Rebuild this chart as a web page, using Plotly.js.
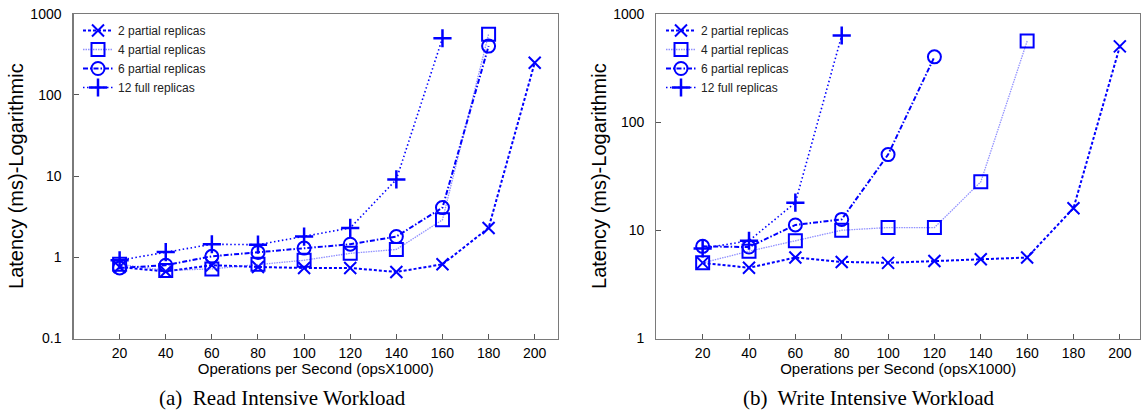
<!DOCTYPE html>
<html>
<head>
<meta charset="utf-8">
<script src="https://cdn.plot.ly/plotly-3.0.1.min.js"></script>
<style>html,body{margin:0;padding:0;background:#fff;}#chart{width:1141px;height:410px;}</style>
</head>
<body>
<div id="chart"></div>
<script>
// ---- data ----
const seriesNames = ["2 partial replicas", "4 partial replicas", "6 partial replicas", "12 full replicas"];
const opsRead2 = [20, 40, 60, 80, 100, 120, 140, 160, 180, 200];
const opsRead4 = [20, 40, 60, 80, 100, 120, 140, 160, 180];
const opsRead6 = [20, 40, 60, 80, 100, 120, 140, 160, 180];
const opsRead12 = [20, 40, 60, 80, 100, 120, 140, 160];
const read2 = [0.76, 0.67, 0.80, 0.76, 0.74, 0.74, 0.66, 0.82, 2.3, 250];
const read4 = [0.82, 0.69, 0.72, 0.82, 0.92, 1.12, 1.25, 2.9, 560];
const read6 = [0.74, 0.80, 1.03, 1.15, 1.30, 1.45, 1.80, 4.1, 400];
const read12 = [0.92, 1.16, 1.45, 1.43, 1.80, 2.30, 9.1, 500];

const opsWrite2 = [20, 40, 60, 80, 100, 120, 140, 160, 180, 200];
const opsWrite4 = [20, 40, 60, 80, 100, 120, 140, 160];
const opsWrite6 = [20, 40, 60, 80, 100, 120];
const opsWrite12 = [20, 40, 60, 80];
const write2 = [5.0, 4.5, 5.6, 5.1, 5.0, 5.2, 5.4, 5.6, 16, 500];
const write4 = [5.0, 6.4, 8.0, 10.0, 10.6, 10.6, 28, 560];
const write6 = [7.1, 7.0, 11.2, 12.6, 50, 400];
const write12 = [6.8, 8.0, 18, 630];

const xTicks = [20, 40, 60, 80, 100, 120, 140, 160, 180, 200];
const yTicksRead = [0.1, 1, 10, 100, 1000];
const yTickTextRead = ["0.1", "1", "10", "100", "1000"];
const yTicksWrite = [1, 10, 100, 1000];
const yTickTextWrite = ["1", "10", "100", "1000"];
const xTitle = "Operations per Second (opsX1000)";
const yTitle = "Latency (ms)-Logarithmic";
const captions = ["(a)\u00a0 Read Intensive Workload", "(b)\u00a0 Write Intensive Workload"];

// ---- styles ----
const BLUE = "#0000ff";
const styles = [
  {line: {color: BLUE, width: 2, dash: "3px,2px"}, marker: {symbol: "x-thin-open", size: 12, line: {color: BLUE, width: 2}}},
  {line: {color: "rgba(70,70,255,0.6)", width: 1.3, dash: "1.5px,1px"}, marker: {symbol: "square-open", size: 13, line: {color: BLUE, width: 2}}},
  {line: {color: BLUE, width: 2, dash: "5px,2px,1.5px,2px"}, marker: {symbol: "circle-open", size: 13, line: {color: BLUE, width: 2}}},
  {line: {color: BLUE, width: 1.6, dash: "1.5px,2.5px"}, marker: {symbol: "cross-thin-open", size: 13, line: {color: BLUE, width: 2.5}}}
];

function mk(x, y, i, ax, leg) {
  return {
    x: x, y: y, name: seriesNames[i], type: "scatter", mode: "lines+markers",
    xaxis: ax[0], yaxis: ax[1], legend: leg,
    line: styles[i].line, marker: Object.assign({color: BLUE}, styles[i].marker)
  };
}

const traces = [
  mk(opsRead2, read2, 0, ["x", "y"], "legend"),
  mk(opsRead4, read4, 1, ["x", "y"], "legend"),
  mk(opsRead6, read6, 2, ["x", "y"], "legend"),
  mk(opsRead12, read12, 3, ["x", "y"], "legend"),
  mk(opsWrite2, write2, 0, ["x2", "y2"], "legend2"),
  mk(opsWrite4, write4, 1, ["x2", "y2"], "legend2"),
  mk(opsWrite6, write6, 2, ["x2", "y2"], "legend2"),
  mk(opsWrite12, write12, 3, ["x2", "y2"], "legend2")
];

const W = 1141, H = 410;
const tickFont = {family: "Liberation Sans, Arial, sans-serif", size: 14, color: "#000"};
const frame = {showline: true, mirror: true, linecolor: "#7a7a7a", linewidth: 1.2, showgrid: false, zeroline: false,
  ticks: "inside", ticklen: 5, tickcolor: "#555", tickwidth: 1, tickfont: tickFont};

function xax(dom, rng, anchor) {
  return Object.assign({}, frame, {domain: dom, range: rng, anchor: anchor, tickmode: "array", tickvals: xTicks,
    ticklabelstandoff: 1,
    title: {text: xTitle, font: {family: "Liberation Sans, Arial, sans-serif", size: 15, color: "#000"}, standoff: 2}});
}
function yax(dom, rng, anchor, vals, txt) {
  return Object.assign({}, frame, {domain: dom, type: "log", range: rng, anchor: anchor, tickmode: "array",
    tickvals: vals, ticktext: txt, ticklabelstandoff: 8,
    title: {text: yTitle, font: {family: "Liberation Sans, Arial, sans-serif", size: 20, color: "#000"}, standoff: 1}});
}

const yDom = [1 - 338.5 / H, 1 - 13.8 / H];
const legendFont = {family: "Liberation Sans, Arial, sans-serif", size: 12, color: "#222"};
const layout = {
  width: W, height: H,
  margin: {l: 0, r: 0, t: 0, b: 0},
  paper_bgcolor: "#fff", plot_bgcolor: "#fff",
  xaxis: xax([73.5 / W, 558 / W], [0, 210.1], "y"),
  yaxis: yax(yDom, [-1, 3], "x", yTicksRead, yTickTextRead),
  xaxis2: xax([656.3 / W, 1140 / W], [0, 208.7], "y2"),
  yaxis2: yax(yDom, [0, 3], "x2", yTicksWrite, yTickTextWrite),
  legend: {x: 78 / W, y: 1 - 16 / H, xanchor: "left", yanchor: "top", bgcolor: "rgba(0,0,0,0)", borderwidth: 0,
    font: legendFont, tracegroupgap: 0},
  legend2: {x: 661 / W, y: 1 - 16 / H, xanchor: "left", yanchor: "top", bgcolor: "rgba(0,0,0,0)", borderwidth: 0,
    font: legendFont, tracegroupgap: 0},
  annotations: [
    {text: captions[0], xref: "paper", yref: "paper", x: 282.5 / W, y: 1 - 398 / H, xanchor: "center", yanchor: "middle",
      showarrow: false, font: {family: "Liberation Serif, Times New Roman, serif", size: 21, color: "#000"}},
    {text: captions[1], xref: "paper", yref: "paper", x: 868.5 / W, y: 1 - 398 / H, xanchor: "center", yanchor: "middle",
      showarrow: false, font: {family: "Liberation Serif, Times New Roman, serif", size: 21, color: "#000"}}
  ],
  showlegend: true
};

Plotly.newPlot("chart", traces, layout, {staticPlot: true, displayModeBar: false});
</script>
</body>
</html>
